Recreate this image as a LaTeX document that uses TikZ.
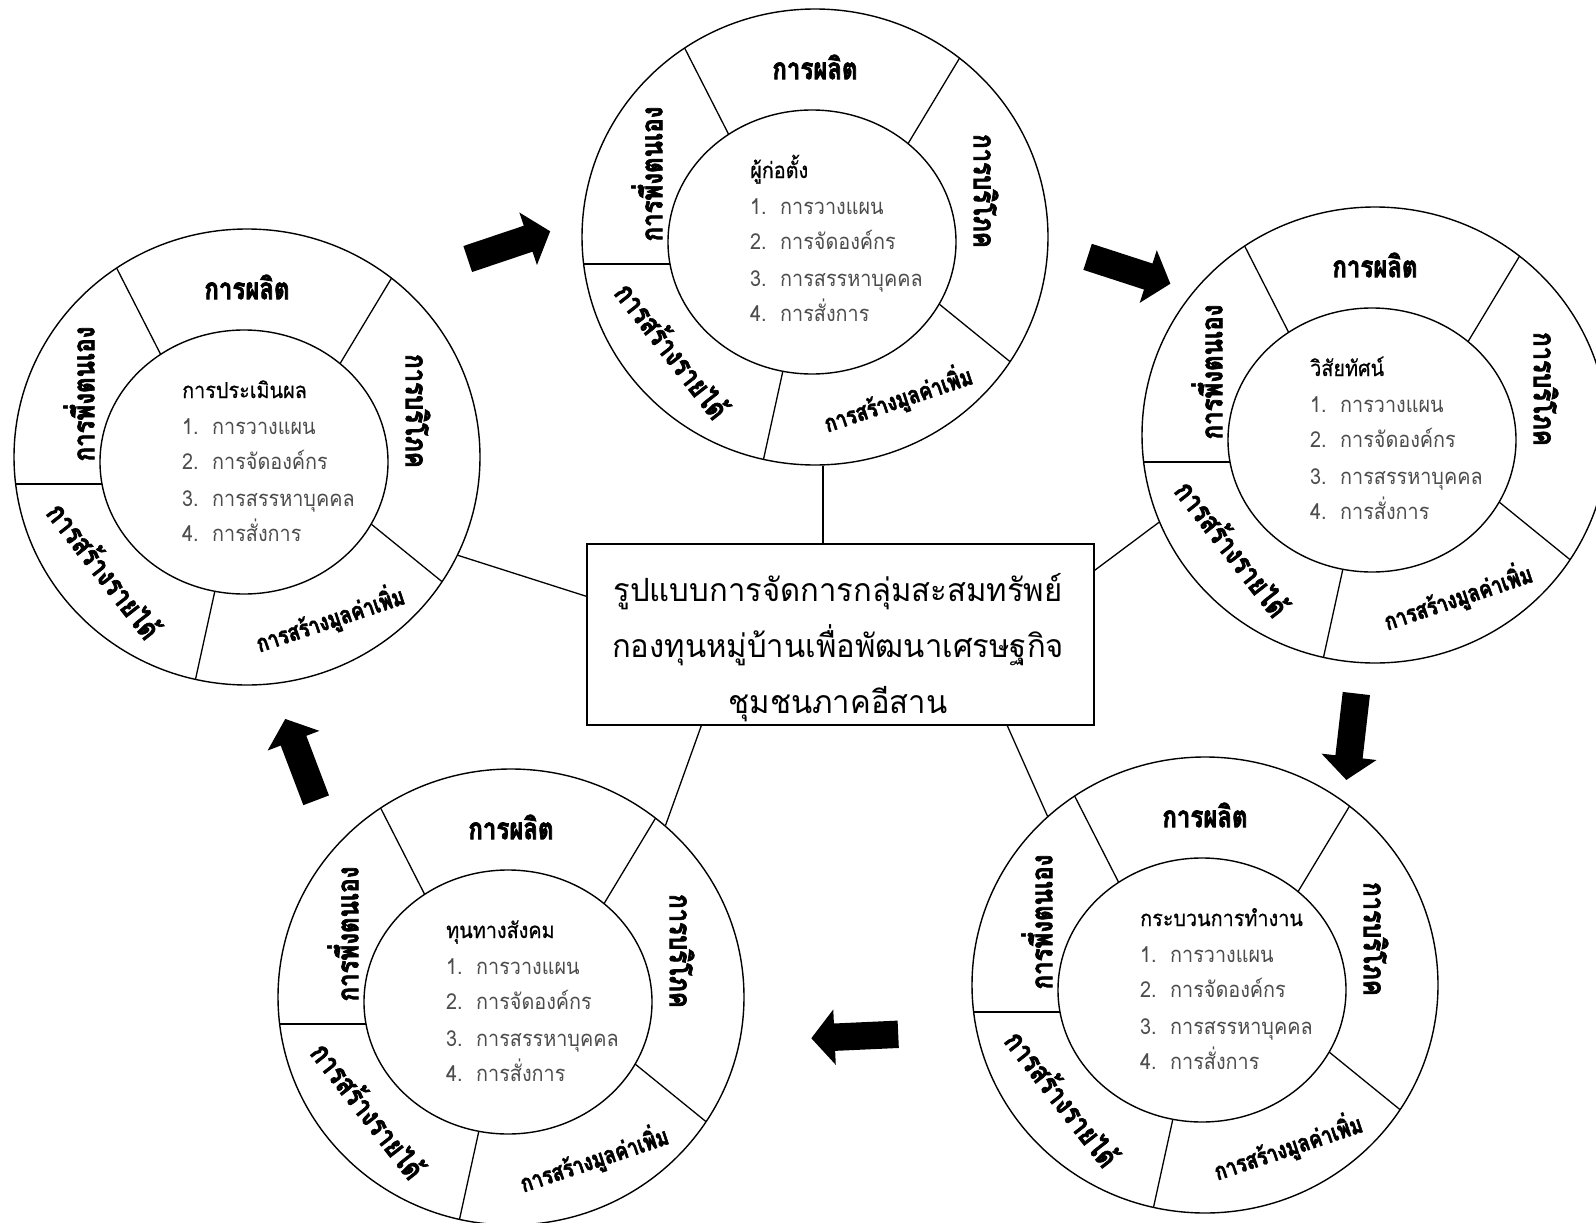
\documentclass[tikz,border=0pt]{standalone}
\usepackage{fontspec}
\setmainfont[Script=Thai]{Loma}
\newfontfamily\labfont[Script=Thai,FakeStretch=0.8,BoldFeatures={FakeBold=2.2}]{Loma}
\newfontfamily\itemfont[Script=Thai,FakeStretch=0.9]{Loma}
\newfontfamily\headfont[Script=Thai,FakeStretch=0.9,FakeBold=0.6]{Loma}
\newfontfamily\boxfont[Script=Thai,FakeStretch=0.97]{Loma}
\usetikzlibrary{calc,shapes.geometric,shapes.arrows}
\tikzset{
 outerring/.style={ellipse, draw, line width=1.4pt, minimum width=466pt, minimum height=456pt, inner sep=0pt},
 innerring/.style={ellipse, draw, fill=white, line width=1.4pt, minimum width=288pt, minimum height=264pt, inner sep=0pt},
 divider/.style={line width=1.3pt},
 lab/.style={font=\labfont\bfseries\fontsize{30}{32}\selectfont, inner sep=0pt},
 labsmall/.style={font=\labfont\bfseries\fontsize{24}{26}\selectfont, inner sep=0pt},
 headtxt/.style={font=\headfont\fontsize{22}{24}\selectfont, anchor=base west, inner sep=0pt},
 itemtxt/.style={font=\itemfont\fontsize{22}{24}\selectfont, text=black!70, anchor=base west, inner sep=0pt},
 conn/.style={line width=1.3pt},
 bigarrow/.style={single arrow, fill=black, draw=none, inner sep=0pt, text height=27pt, text depth=0pt, minimum height=87pt, single arrow head extend=14pt, single arrow tip angle=100},
 mainbox/.style={draw, line width=1.4pt, minimum width=507pt, minimum height=181pt, inner sep=0pt},
 boxtxt/.style={font=\boxfont\fontsize{32}{56}\selectfont, align=center, inner sep=0pt}
}
\newcommand\ringdiag[4]{%
 \coordinate (#1) at (#2,#3);
 \draw[divider] ($(#1)+(-127.4,-194.0)$) -- ($(#1)+(-76.6,-94.4)$);
 \draw[divider] ($(#1)+(147.5,-183.8)$) -- ($(#1)+(90.5,-89.2)$);
 \draw[divider] ($(#1)+(198.1,119.7)$) -- ($(#1)+(112.8,50.4)$);
 \draw[divider] ($(#1)+(-48.5,217.3)$) -- ($(#1)+(-26.3,116.2)$);
 \draw[divider] ($(#1)+(-228.3,22.0)$) -- ($(#1)+(-123.6,22.0)$);
 \node[outerring] (#1o) at ($(#1)+(3,-5)$) {};
 \node[innerring] (#1i) at (#1) {};
 \node[lab] (#1p) at ($(#1)+(3,-175)$) {การผลิต};
 \node[lab, rotate=-90] (#1b) at ($(#1)+(174,-51)$) {การบริโภค};
 \node[lab, rotate=90] (#1s) at ($(#1)+(-165,-68)$) {การพึ่งตนเอง};
 \node[lab, rotate=-52] (#1r) at ($(#1)+(-139,108)$) {การสร้างรายได้};
 \node[labsmall, rotate=18.5] (#1v) at ($(#1)+(86,157)$) {การสร้างมูลค่าเพิ่ม};
 \node[headtxt] (#1h) at ($(#1)+(-62,-64)$) {#4};
 \node[itemtxt] (#1n1) at ($(#1)+(-62,-28)$) {1.};
 \node[itemtxt] (#1t1) at ($(#1)+(-32,-28)$) {การวางแผน};
 \node[itemtxt] (#1n2) at ($(#1)+(-62,7)$) {2.};
 \node[itemtxt] (#1t2) at ($(#1)+(-32,7)$) {การจัดองค์กร};
 \node[itemtxt] (#1n3) at ($(#1)+(-62,44)$) {3.};
 \node[itemtxt] (#1t3) at ($(#1)+(-32,44)$) {การสรรหาบุคคล};
 \node[itemtxt] (#1n4) at ($(#1)+(-62,79)$) {4.};
 \node[itemtxt] (#1t4) at ($(#1)+(-32,79)$) {การสั่งการ};
}
\begin{document}
\begin{tikzpicture}[x=1pt,y=-1pt]
\useasboundingbox[fill=white] (0,0) rectangle (1596,1223);
\ringdiag{ca}{812}{242}{ผู้ก่อตั้ง}
\ringdiag{cb}{244}{462}{การประเมินผล}
\ringdiag{cc}{1372}{440}{วิสัยทัศน์}
\ringdiag{cd}{1202}{990}{กระบวนการทำงาน}
\ringdiag{ce}{508}{1002}{ทุนทางสังคม}
\node[mainbox] (box) at (840.5,634.5) {};
\node[boxtxt] (boxt) at (838,648) {รูปแบบการจัดการกลุ่มสะสมทรัพย์\\กองทุนหมู่บ้านเพื่อพัฒนาเศรษฐกิจ\\ชุมชนภาคอีสาน};
\draw[conn] (cao.-88.7) -- (cao.-88.7 |- box.north);
\draw[conn] (cbo.-25.5) -- ($(box.north west)+(0,53)$);
\draw[conn] (cco.-158.6) -- ($(box.north east)+(0,27)$);
\draw[conn] (cdo.133.8) -- ($(box.south west)+(421,0)$);
\draw[conn] (ceo.48) -- ($(box.south west)+(115,0)$);
\node[bigarrow, rotate=18.6] (a1) at (503.5,247) {};
\node[bigarrow, rotate=-18] (a2) at (1123.5,268.5) {};
\node[bigarrow, rotate=-96.6] (a3) at (1352,731) {};
\node[bigarrow, rotate=182.6] (a4) at (860.5,1036) {};
\node[bigarrow, rotate=110.8] (a5) at (302.75,765) {};
\end{tikzpicture}
\end{document}
